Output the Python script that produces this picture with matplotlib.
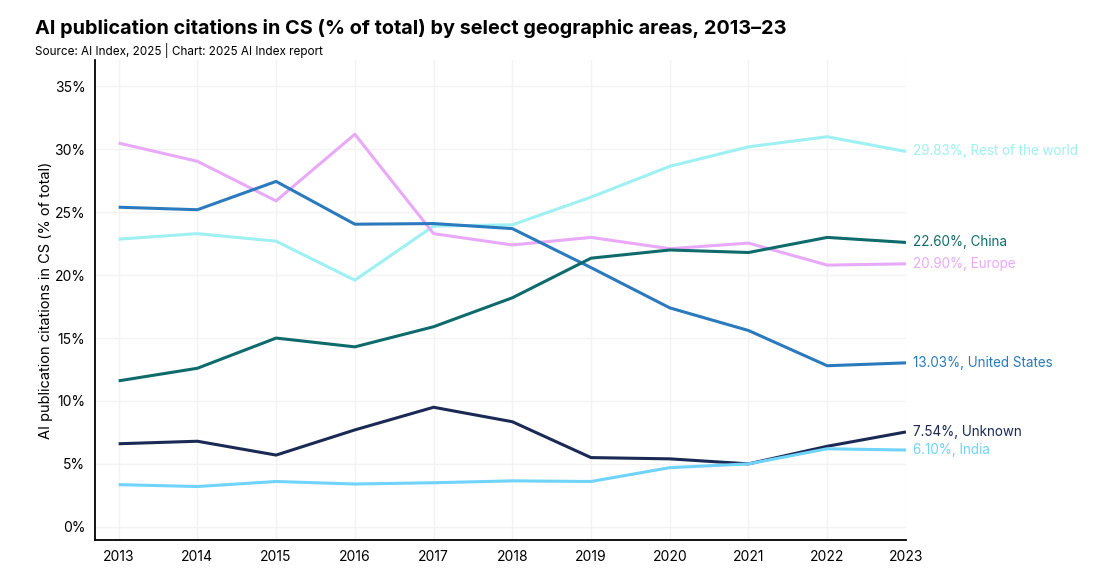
import matplotlib
matplotlib.use('Agg')
import matplotlib.pyplot as plt

plt.rcParams['font.family'] = ['Inter', 'DejaVu Sans']

years = list(range(2013, 2024))

rest_world = [22.86, 23.3, 22.7, 19.6, 23.9, 24.0, 26.2, 28.65, 30.2, 31.0, 29.83]
europe = [30.5, 29.05, 25.9, 31.2, 23.3, 22.4, 23.0, 22.1, 22.55, 20.8, 20.90]
united_states = [25.4, 25.2, 27.45, 24.05, 24.1, 23.7, 20.6, 17.4, 15.6, 12.8, 13.03]
china = [11.6, 12.6, 15.0, 14.3, 15.9, 18.2, 21.35, 22.0, 21.8, 23.0, 22.60]
unknown = [6.6, 6.8, 5.7, 7.7, 9.5, 8.35, 5.5, 5.4, 5.0, 6.4, 7.54]
india = [3.35, 3.2, 3.6, 3.4, 3.5, 3.65, 3.6, 4.7, 5.0, 6.2, 6.10]

series = [
    ('Rest of the world', rest_world, '#9ef0f2'),
    ('Europe', europe, '#e9a9f9'),
    ('United States', united_states, '#2a7abd'),
    ('China', china, '#0f6b6b'),
    ('Unknown', unknown, '#1b2a55'),
    ('India', india, '#6fd3fb'),
]

fig = plt.figure(figsize=(10.96, 5.86), dpi=100)
ax = fig.add_axes([0.0867, 0.0785, 0.7399, 0.8191])

for name, vals, col in series:
    ax.plot(years, vals, color=col, lw=2.2, solid_capstyle='butt', zorder=3)
    # end label
    ax.annotate('%.2f%%, %s' % (vals[-1], name), xy=(years[-1], vals[-1]),
                xytext=(5, 0), textcoords='offset points', va='center', ha='left',
                color=col, fontsize=9.7, annotation_clip=False)

ax.set_xlim(2012.7, 2023)
ax.set_ylim(-1.05, 37.1)
ax.set_xticks(years)
ax.set_yticks(range(0, 36, 5))
ax.set_yticklabels(['%d%%' % v for v in range(0, 36, 5)])
ax.grid(True, color='#f3f3f3', lw=1)
ax.set_axisbelow(True)
for s in ['top', 'right']:
    ax.spines[s].set_visible(False)
ax.spines['left'].set_linewidth(1.3)
ax.spines['bottom'].set_linewidth(1.3)
ax.tick_params(length=0, labelsize=10, pad=7)
ax.set_ylabel('AI publication citations in CS (% of total)', fontsize=10.5, labelpad=1)

fig.text(0.032, 0.952, 'AI publication citations in CS (% of total) by select geographic areas, 2013–23',
         fontsize=14.3, fontweight='bold', va='center')
fig.text(0.032, 0.914, 'Source: AI Index, 2025 | Chart: 2025 AI Index report', fontsize=8.45, va='center')

fig.savefig('out.png', dpi=100)
